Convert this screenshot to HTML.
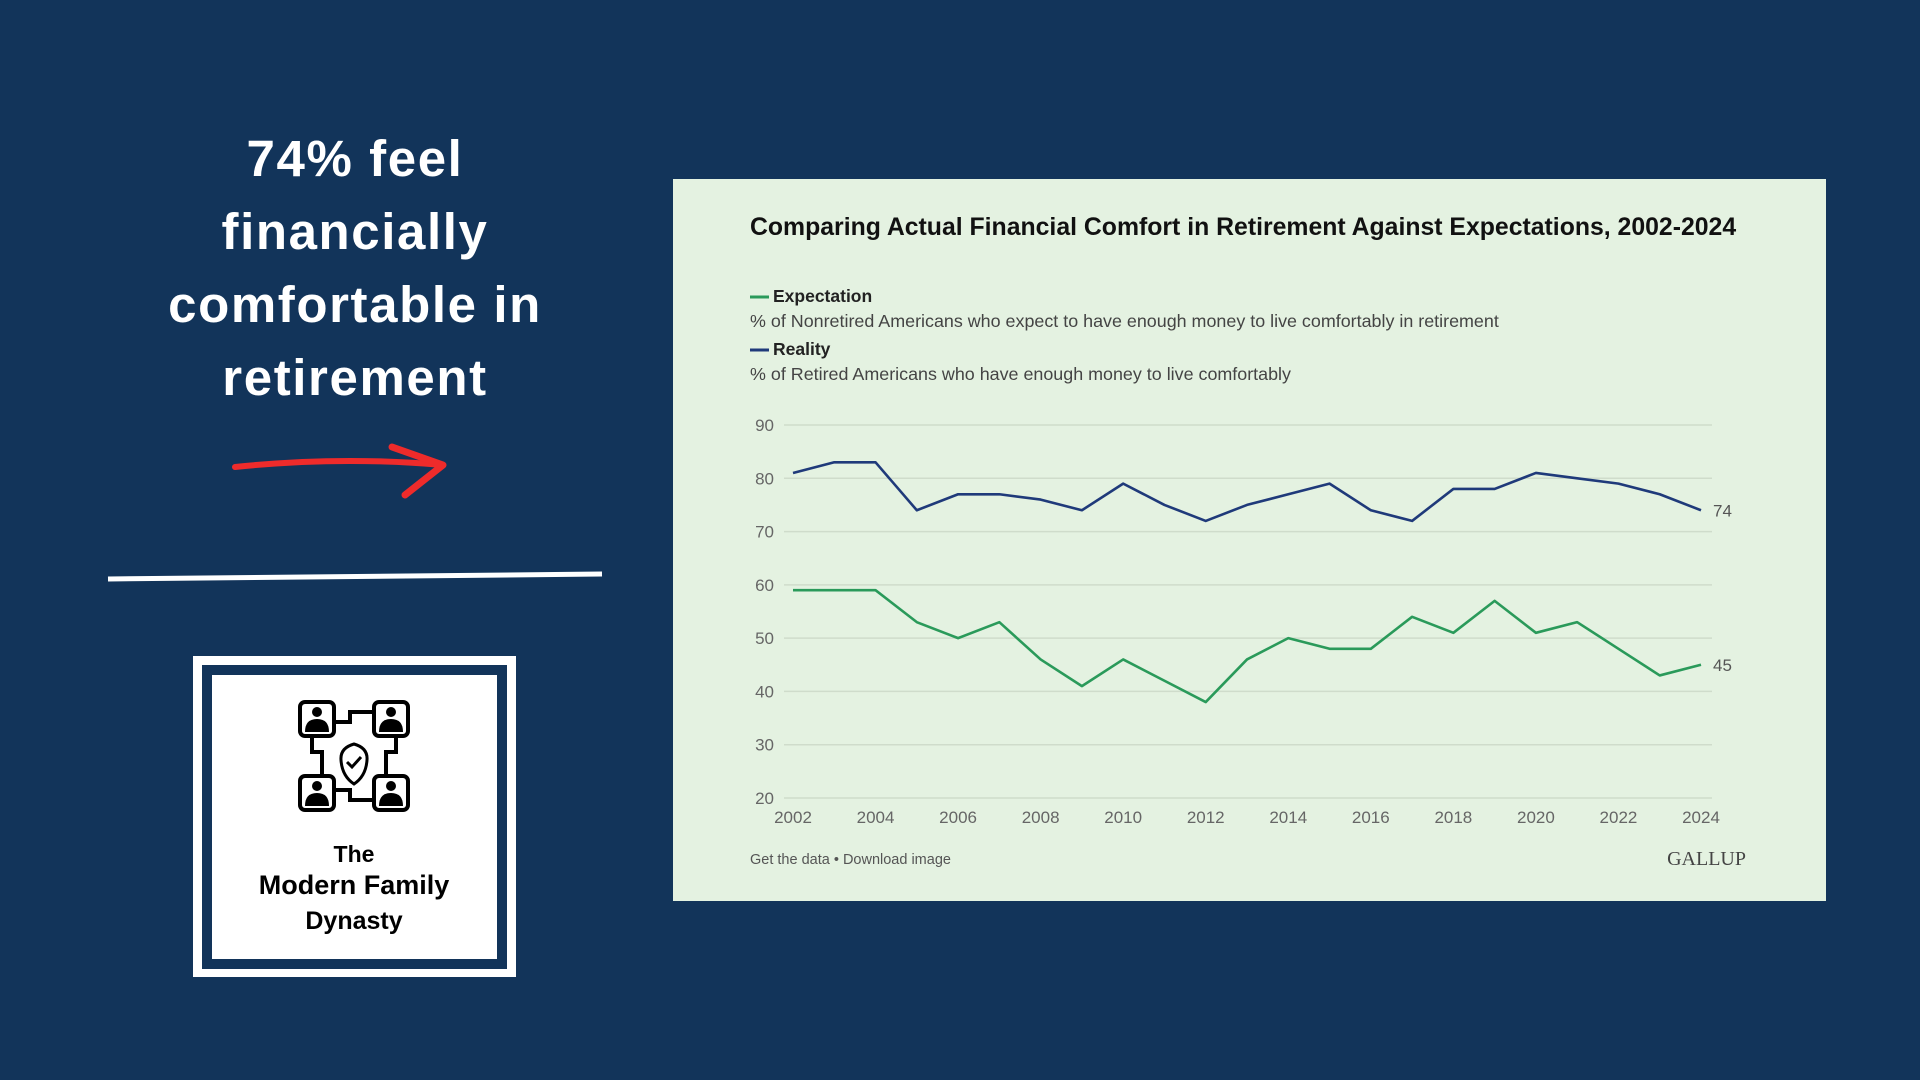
<!DOCTYPE html>
<html><head><meta charset="utf-8"><style>
body{margin:0;width:1920px;height:1080px;background:#12345a;position:relative;overflow:hidden;font-family:"Liberation Sans",sans-serif}
.headline{position:absolute;left:85px;width:540px;top:122px;text-align:center;color:#fff;font-weight:bold;font-size:51px;line-height:73px;letter-spacing:1.6px}
.card{position:absolute;left:673px;top:179px;width:1153px;height:722px;background:#e4f2e1}
</style></head><body>
<div class="headline">74% feel<br>financially<br>comfortable in<br>retirement</div>
<svg style="position:absolute;left:0;top:0" width="1920" height="1080">
<path d="M235 467 Q340 456 443 465" stroke="#ee2b2b" stroke-width="6" fill="none" stroke-linecap="round"/>
<path d="M392 447 L443 465 L405 495" stroke="#ee2b2b" stroke-width="7" fill="none" stroke-linecap="round" stroke-linejoin="round"/>
<line x1="108" y1="579" x2="602" y2="574" stroke="#fff" stroke-width="5"/>
<rect x="193" y="656" width="323" height="321" fill="#fff"/>
<rect x="202" y="665" width="305" height="304" fill="#12345a"/>
<rect x="212" y="675" width="285" height="284" fill="#fff"/>
<g stroke="#000" stroke-width="4" fill="none">
<rect x="300" y="702" width="34" height="34" rx="5"/><rect x="374" y="702" width="34" height="34" rx="5"/>
<rect x="300" y="776" width="34" height="34" rx="5"/><rect x="374" y="776" width="34" height="34" rx="5"/>
<path d="M334 722 H350 V712 H374 M334 790 H350 V800 H374 M312 736 V752 H322 V776 M396 736 V752 H386 V776"/>
<path d="M354 744 Q340 748 341 760 Q342 776 354 784 Q366 776 367 760 Q368 748 354 744Z" stroke-width="3"/>
<path d="M347 762 L352 767 L361 757" stroke-width="3"/>
<g fill="#000" stroke="none"><circle cx="317" cy="712" r="5"/><path d="M305 732 Q305 719 317 719 Q329 719 329 732Z"/>
<circle cx="391" cy="712" r="5"/><path d="M379 732 Q379 719 391 719 Q403 719 403 732Z"/>
<circle cx="317" cy="786" r="5"/><path d="M305 806 Q305 793 317 793 Q329 793 329 806Z"/>
<circle cx="391" cy="786" r="5"/><path d="M379 806 Q379 793 391 793 Q403 793 403 806Z"/></g></g>
<g font-family="Liberation Sans" font-weight="bold" text-anchor="middle" fill="#000">
<text x="354" y="862" font-size="23">The</text>
<text x="354" y="894" font-size="27">Modern Family</text>
<text x="354" y="929" font-size="25">Dynasty</text></g>
</svg>
<div class="card"></div>
<svg id="chart" style="position:absolute;left:0;top:0" width="1920" height="1080">
<text x="750" y="235" font-size="24.8" font-weight="bold" fill="#111">Comparing Actual Financial Comfort in Retirement Against Expectations, 2002-2024</text>
<line x1="750" y1="297" x2="769" y2="297" stroke="#2a9a5a" stroke-width="3"/>
<text x="773" y="302" font-size="17.5" font-weight="bold" fill="#222">Expectation</text>
<text x="750" y="327" font-size="17.9" fill="#444">% of Nonretired Americans who expect to have enough money to live comfortably in retirement</text>
<line x1="750" y1="350" x2="769" y2="350" stroke="#1f3a7a" stroke-width="3"/>
<text x="773" y="355" font-size="17.5" font-weight="bold" fill="#222">Reality</text>
<text x="750" y="380" font-size="17.9" fill="#444">% of Retired Americans who have enough money to live comfortably</text>
<text x="750" y="864" font-size="14.5" fill="#555">Get the data • Download image</text>
<text x="1746" y="865" font-size="20" fill="#444" text-anchor="end" font-family="Liberation Serif">GALLUP</text>
</svg>
<script>
const years=[2002,2003,2004,2005,2006,2007,2008,2009,2010,2011,2012,2013,2014,2015,2016,2017,2018,2019,2020,2021,2022,2023,2024];
const reality=[81,83,83,74,77,77,76,74,79,75,72,75,77,79,74,72,78,78,81,80,79,77,74];
const expectation=[59,59,59,53,50,53,46,41,46,42,38,46,50,48,48,54,51,57,51,53,48,43,45];
const yTicks=[20,30,40,50,60,70,80,90];
const xTicks=[2002,2004,2006,2008,2010,2012,2014,2016,2018,2020,2022,2024];
const NS='http://www.w3.org/2000/svg';
const svg=document.getElementById('chart');
const x=v=>793+(v-2002)/(2024-2002)*(1701-793);
const y=v=>798-(v-20)/70*(798-425);
function mk(t,a){const e=document.createElementNS(NS,t);for(const k in a)e.setAttribute(k,a[k]);svg.appendChild(e);return e;}
yTicks.forEach(t=>{
 const g=mk('line',{x1:784,x2:1712,y1:y(t),y2:y(t),stroke:'#cfdccb','stroke-width':1.5});
 
 
 const l=mk('text',{x:774,y:y(t)+6,'font-size':17,fill:'#666','text-anchor':'end'});l.textContent=t;
 
 
});
xTicks.forEach(t=>{
 const l=mk('text',{x:x(t),y:823,'font-size':17,fill:'#666','text-anchor':'middle'});l.textContent=t;
 
 
});
function line(vals,col,name){
 const p=mk('polyline',{points:vals.map((v,i)=>x(years[i])+','+y(v)).join(' '),fill:'none',stroke:col,'stroke-width':2.6,'stroke-linejoin':'round'});
 
 
 const last=vals[vals.length-1];
 const l=mk('text',{x:x(years[years.length-1])+12,y:y(last)+6,'font-size':17,fill:'#555'});l.textContent=last;
 
 
}
line(reality,'#1f3a7a','reality');
line(expectation,'#2a9a5a','expectation');
</script>
</body></html>
